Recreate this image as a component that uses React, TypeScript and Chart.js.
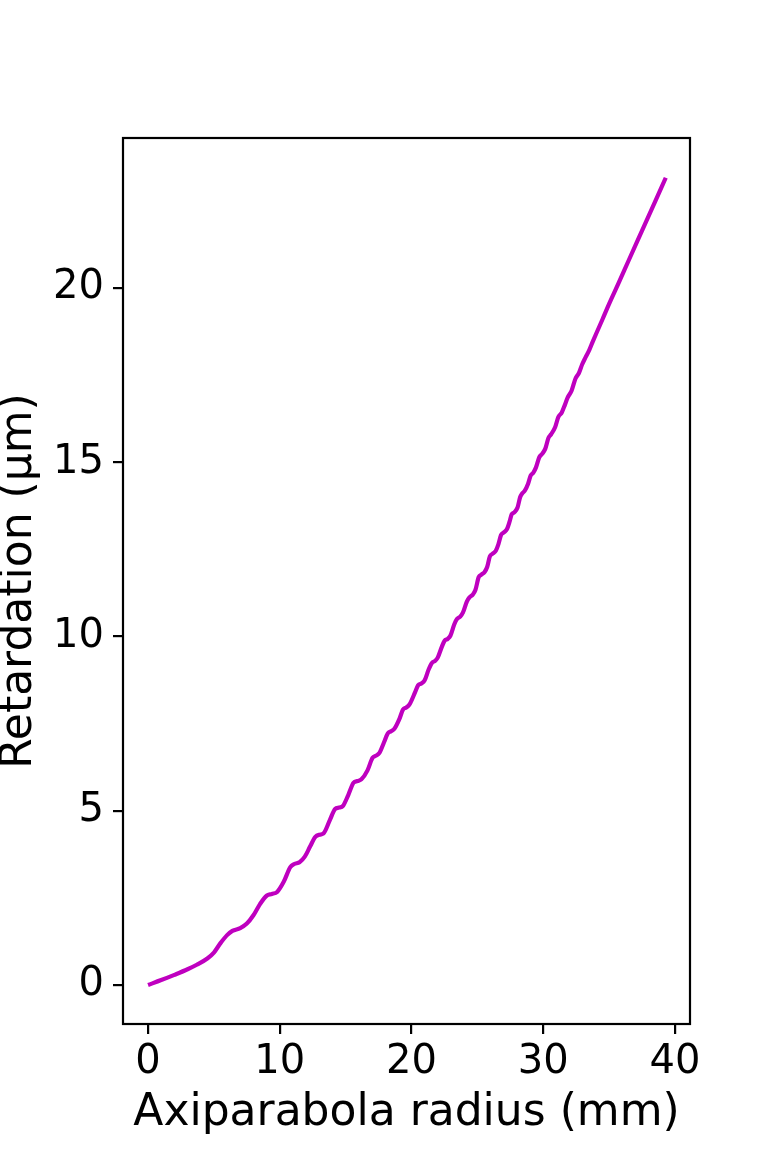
import React, { useEffect, useRef } from "react";
import { Chart, registerables } from "chart.js";

Chart.register(...registerables);

// Axiparabola radius (mm)
const radiusMm: number[] = [
  0, 1.0, 2.0, 3.0, 3.7, 4.5, 5.0, 5.5, 6.0, 6.4,
  7.0, 7.5, 8.0, 8.5, 9.0, 9.4, 9.8, 10.3, 10.8, 11.1,
  11.5, 11.9, 12.3, 12.7, 13.0, 13.3, 13.8, 14.2, 14.5, 14.8,
  15.2, 15.6, 15.9, 16.2, 16.65, 17.05, 17.3, 17.55, 17.9, 18.2,
  18.45, 18.7, 19.1, 19.35, 19.6, 19.85, 20.25, 20.5, 20.75, 21.0,
  21.3, 21.55, 21.8, 22.0, 22.3, 22.5, 22.75, 22.95, 23.25, 23.45,
  23.7, 23.9, 24.2, 24.4, 24.65, 24.85, 25.1, 25.3, 25.55, 25.75,
  25.95, 26.15, 26.4, 26.6, 26.8, 27.0, 27.25, 27.45, 27.6, 27.8,
  28.05, 28.25, 28.4, 28.6, 28.85, 29.05, 29.25, 29.45, 29.7, 29.9,
  30.15, 30.4, 30.6, 30.9, 31.15, 31.4, 31.65, 31.85, 32.15, 32.45,
  32.7, 32.95, 33.2, 33.5, 33.75, 34.0, 34.5, 35.0, 35.7, 36.5,
  37.5, 38.5, 39.3,
];

// Retardation (µm)
const retardationUm: number[] = [
  0, 0.14, 0.29, 0.45, 0.58, 0.76, 0.93, 1.2, 1.43, 1.55,
  1.63, 1.76, 2.0, 2.32, 2.56, 2.61, 2.67, 2.96, 3.38, 3.47,
  3.52, 3.68, 3.97, 4.25, 4.31, 4.34, 4.73, 5.05, 5.09, 5.14,
  5.45, 5.8, 5.85, 5.9, 6.15, 6.52, 6.58, 6.65, 6.95, 7.22,
  7.28, 7.35, 7.65, 7.9, 7.96, 8.05, 8.38, 8.6, 8.65, 8.74,
  9.05, 9.24, 9.3, 9.4, 9.7, 9.87, 9.93, 10.02, 10.35, 10.5,
  10.57, 10.68, 11.0, 11.12, 11.2, 11.33, 11.7, 11.77, 11.85, 12.0,
  12.3, 12.37, 12.46, 12.65, 12.91, 12.98, 13.08, 13.3, 13.5, 13.56,
  13.7, 14.0, 14.1, 14.18, 14.38, 14.62, 14.7, 14.85, 15.14, 15.23,
  15.38, 15.7, 15.8, 16.0, 16.3, 16.42, 16.65, 16.85, 17.05, 17.4,
  17.55, 17.8, 18.0, 18.22, 18.45, 18.67, 19.1, 19.54, 20.12, 20.8,
  21.64, 22.48, 23.16,
];

const xTicks: number[] = [0, 10, 20, 30, 40];
const yTicks: number[] = [0, 5, 10, 15, 20];

const xRange = { min: -1.9, max: 41.14 };
const yRange = { min: -1.12, max: 24.3 };

const frame = {
  id: "frame",
  afterDatasetsDraw(chart: any) {
    const { ctx, chartArea } = chart;
    ctx.save();
    ctx.strokeStyle = "#000";
    ctx.lineWidth = 2.2;
    ctx.strokeRect(chartArea.left, chartArea.top, chartArea.right - chartArea.left, chartArea.bottom - chartArea.top);
    ctx.restore();
  },
};

export default function App() {
  const ref = useRef<HTMLCanvasElement | null>(null);

  useEffect(() => {
    if (!ref.current) return;
    const data = radiusMm.map((x, i) => ({ x, y: retardationUm[i] }));
    const tickFont = { family: "'DejaVu Sans', sans-serif", size: 40 };
    const titleFont = { family: "'DejaVu Sans', sans-serif", size: 44 };
    const chart = new Chart(ref.current, {
      type: "line",
      data: {
        datasets: [
          {
            data,
            borderColor: "#bf00bf",
            borderWidth: 4.2,
            pointRadius: 0,
            cubicInterpolationMode: "monotone",
            fill: false,
          },
        ],
      },
      options: {
        animation: false,
        responsive: false,
        devicePixelRatio: 1,
        layout: { padding: { top: 138, right: 78, left: 0, bottom: 0 } },
        plugins: { legend: { display: false }, tooltip: { enabled: false } },
        scales: {
          x: {
            type: "linear",
            min: xRange.min,
            max: xRange.max,
            afterBuildTicks: (s: any) => {
              s.ticks = xTicks.map((v) => ({ value: v }));
            },
            afterFit: (s: any) => {
              s.height = 128;
            },
            grid: { drawOnChartArea: false, drawTicks: true, tickLength: 10, color: "#000", lineWidth: 2.2 },
            border: { display: false },
            ticks: { color: "#000", font: tickFont, padding: 5, maxRotation: 0, autoSkip: false },
            title: {
              display: true,
              text: "Axiparabola radius (mm)",
              color: "#000",
              font: titleFont,
              padding: { top: 0, bottom: 12 },
            },
          },
          y: {
            type: "linear",
            min: yRange.min,
            max: yRange.max,
            afterBuildTicks: (s: any) => {
              s.ticks = yTicks.map((v) => ({ value: v }));
            },
            afterFit: (s: any) => {
              s.width = 123;
            },
            grid: { drawOnChartArea: false, drawTicks: true, tickLength: 10, color: "#000", lineWidth: 2.2 },
            border: { display: false },
            ticks: { color: "#000", font: tickFont, padding: 9, autoSkip: false },
            title: {
              display: true,
              text: "Retardation (µm)",
              color: "#000",
              font: titleFont,
              padding: { top: -7, bottom: 0 },
            },
          },
        },
      },
      plugins: [frame],
    });
    return () => chart.destroy();
  }, []);

  return (
    <div style={{ position: "absolute", left: 0, top: 0, width: 768, height: 1152, background: "#fff" }}>
      <canvas ref={ref} width={768} height={1152} style={{ display: "block" }} />
    </div>
  );
}
